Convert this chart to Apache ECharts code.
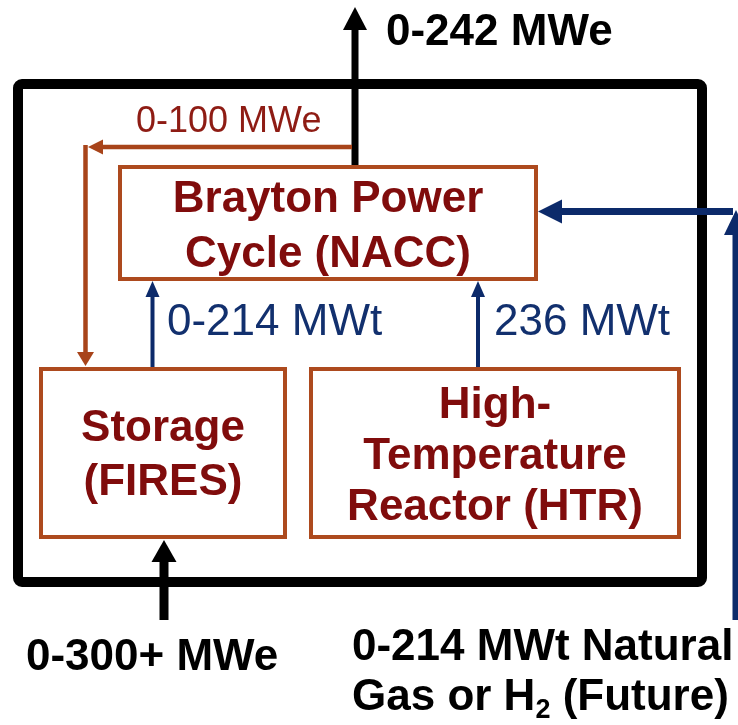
<!DOCTYPE html>
<html>
<head>
<meta charset="utf-8">
<script src="https://cdn.jsdelivr.net/npm/echarts@6/dist/echarts.min.js"></script>
<style>
html,body{margin:0;padding:0;background:#fff;}
#chart{width:738px;height:725px;}
</style>
</head>
<body>
<div id="chart"></div>
<script>
// ---- Diagram data (diagram coordinate units: x 0..738, y 0..725 top-down) ----
const boxNames = ['System', 'Brayton', 'Storage', 'HTR'];
const boxCorners = [
  [18, 84, 702, 582],
  [120, 167, 536, 279],
  [41, 369, 285, 537],
  [311, 369, 679, 537]
];
const arrowNames = ['gridOut', 'toStorageH', 'toStorageV', 'storageHeat', 'reactorHeat', 'gasUp', 'gasIn', 'gridIn'];
const arrowEnds = [
  [355, 165, 355, 7],
  [352, 147, 88, 147],
  [85.5, 145, 85.5, 366],
  [152.5, 367, 152.5, 281],
  [478, 367, 478, 281],
  [736, 620, 736, 210],
  [733, 211.5, 538, 211.5],
  [164, 620, 164, 540]
];
// Plain strings, or [normal, subscript, normal] parts for subscripted text
const labelTexts = [
  '0-242 MWe',
  '0-100 MWe',
  'Brayton Power\nCycle (NACC)',
  'Storage\n(FIRES)',
  'High-\nTemperature\nReactor (HTR)',
  '0-214 MWt',
  '236 MWt',
  '0-300+ MWe',
  '0-214 MWt Natural',
  ['Gas or H', '2', ' (Future)']
];
const labelAnchors = [
  [386, 33], [136, 122], [328, 227], [163, 456], [495, 457],
  [167, 323], [494, 323], [26, 658], [352, 648], [352, 698]
];

// ---- Styles ----
const FONT = "'Liberation Sans', Arial, sans-serif";
const C = {
  black: '#000000',
  boxLine: '#AD4A1E',
  boxText: '#800C0C',
  brown: '#A8441A',
  brownText: '#8E1C14',
  navy: '#0C2A6A',
  navyText: '#12306E'
};
const boxStyles = [
  {stroke: C.black, lineWidth: 10, r: 4},
  {stroke: C.boxLine, lineWidth: 4, r: 0},
  {stroke: C.boxLine, lineWidth: 4, r: 0},
  {stroke: C.boxLine, lineWidth: 4, r: 0}
];
const arrowStyles = [
  {color: C.black, width: 7, headL: 23, headW: 24},
  {color: C.brown, width: 4.5, headL: 15, headW: 15},
  {color: C.brown, width: 4.5, headL: 14, headW: 17},
  {color: C.navy, width: 4, headL: 16, headW: 14},
  {color: C.navy, width: 4, headL: 16, headW: 14},
  {color: C.navy, width: 7, headL: 25, headW: 24},
  {color: C.navy, width: 7, headL: 24, headW: 24},
  {color: C.black, width: 9, headL: 22, headW: 25}
];
const labelStyles = [
  {fill: C.black, fontSize: 44, fontWeight: 'bold', align: 'left'},
  {fill: C.brownText, fontSize: 36, fontWeight: 'normal', align: 'left'},
  {fill: C.boxText, fontSize: 44, fontWeight: 'bold', align: 'center', lineHeight: 55},
  {fill: C.boxText, fontSize: 44, fontWeight: 'bold', align: 'center', lineHeight: 54},
  {fill: C.boxText, fontSize: 44, fontWeight: 'bold', align: 'center', lineHeight: 51},
  {fill: C.navyText, fontSize: 44, fontWeight: 'normal', align: 'left'},
  {fill: C.navyText, fontSize: 44, fontWeight: 'normal', align: 'left'},
  {fill: C.black, fontSize: 44, fontWeight: 'bold', align: 'left'},
  {fill: C.black, fontSize: 44, fontWeight: 'bold', align: 'left'},
  {fill: C.black, fontSize: 44, fontWeight: 'bold', align: 'left', subSize: 27, subDrop: 13}
];

const measureCtx = document.createElement('canvas').getContext('2d');
function textWidth(str, size, weight) {
  measureCtx.font = weight + ' ' + size + 'px ' + FONT;
  return measureCtx.measureText(str).width;
}

const chart = echarts.init(document.getElementById('chart'), null, {renderer: 'canvas'});

function renderBox(params, api) {
  const p1 = api.coord([api.value(0), api.value(1)]);
  const p2 = api.coord([api.value(2), api.value(3)]);
  const s = boxStyles[params.dataIndex];
  return {
    type: 'rect',
    shape: {x: p1[0], y: p1[1], width: p2[0] - p1[0], height: p2[1] - p1[1], r: s.r},
    style: {fill: 'none', stroke: s.stroke, lineWidth: s.lineWidth}
  };
}

function renderArrow(params, api) {
  const a = api.coord([api.value(0), api.value(1)]);
  const b = api.coord([api.value(2), api.value(3)]);
  const s = arrowStyles[params.dataIndex];
  const dx = b[0] - a[0], dy = b[1] - a[1];
  const len = Math.sqrt(dx * dx + dy * dy);
  const ux = dx / len, uy = dy / len;
  const nx = -uy, ny = ux;
  const base = [b[0] - ux * s.headL, b[1] - uy * s.headL];
  const shaftEnd = [b[0] - ux * (s.headL - 2), b[1] - uy * (s.headL - 2)];
  return {
    type: 'group',
    children: [
      {type: 'line', shape: {x1: a[0], y1: a[1], x2: shaftEnd[0], y2: shaftEnd[1]},
       style: {stroke: s.color, lineWidth: s.width}},
      {type: 'polygon', shape: {points: [
        [b[0], b[1]],
        [base[0] + nx * s.headW / 2, base[1] + ny * s.headW / 2],
        [base[0] - nx * s.headW / 2, base[1] - ny * s.headW / 2]
      ]}, style: {fill: s.color}}
    ]
  };
}

function renderLabel(params, api) {
  const p = api.coord([api.value(0), api.value(1)]);
  const s = labelStyles[params.dataIndex];
  const t = labelTexts[params.dataIndex];
  const mk = (str, x, y, size) => {
    const style = {
      text: str, fill: s.fill, fontSize: size, fontWeight: s.fontWeight,
      fontFamily: FONT, align: s.align, verticalAlign: 'middle'
    };
    if (s.lineHeight) style.lineHeight = s.lineHeight;
    return {type: 'text', x: x, y: y, style: style};
  };
  if (Array.isArray(t)) {
    const w0 = textWidth(t[0], s.fontSize, s.fontWeight);
    const w1 = textWidth(t[1], s.subSize, s.fontWeight);
    return {
      type: 'group',
      children: [
        mk(t[0], p[0], p[1], s.fontSize),
        mk(t[1], p[0] + w0, p[1] + s.subDrop, s.subSize),
        mk(t[2], p[0] + w0 + w1, p[1], s.fontSize)
      ]
    };
  }
  return mk(t, p[0], p[1], s.fontSize);
}

chart.setOption({
  animation: false,
  backgroundColor: '#ffffff',
  grid: {left: 0, right: 0, top: 0, bottom: 0},
  xAxis: {type: 'value', min: 0, max: 738, show: false},
  yAxis: {type: 'value', min: 0, max: 725, inverse: true, show: false},
  series: [
    {
      type: 'custom', name: 'boxes', coordinateSystem: 'cartesian2d', clip: false,
      renderItem: renderBox,
      data: boxCorners.map((c, i) => ({name: boxNames[i], value: c}))
    },
    {
      type: 'custom', name: 'arrows', coordinateSystem: 'cartesian2d', clip: false,
      renderItem: renderArrow,
      data: arrowEnds.map((c, i) => ({name: arrowNames[i], value: c}))
    },
    {
      type: 'custom', name: 'labels', coordinateSystem: 'cartesian2d', clip: false,
      renderItem: renderLabel,
      data: labelAnchors.map((c) => ({value: c}))
    }
  ]
});
</script>
</body>
</html>
